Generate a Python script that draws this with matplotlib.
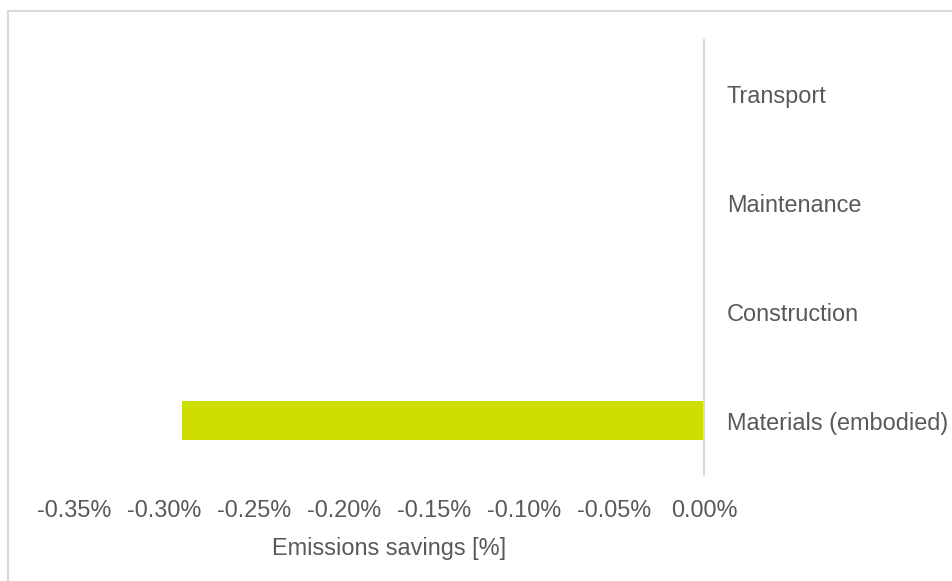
import matplotlib.pyplot as plt
from matplotlib.patches import Rectangle

# Emissions savings by category (fraction, negative = saving)
categories = ['Materials (embodied)', 'Construction', 'Maintenance', 'Transport']
savings = [-0.0029, 0.0, 0.0, 0.0]
x_ticks = [-0.0035, -0.0030, -0.0025, -0.0020, -0.0015, -0.0010, -0.0005, 0.0]

text_color = '#595959'
bar_color = '#CEDD00'
line_color = '#D9D9D9'

plt.rcParams['font.family'] = ['Liberation Sans', 'DejaVu Sans']

W, H = 953, 581
fig = plt.figure(figsize=(W / 100, H / 100), dpi=100)

# outer chart frame (cut off at the right and bottom)
fig.add_artist(Rectangle((8 / W, -0.1), 1.2, 1 - 11 / H + 0.1, transform=fig.transFigure,
                         fill=False, edgecolor=line_color, linewidth=1.5))

ax = fig.add_axes([74 / W, 1 - 475 / H, (704 - 74) / W, (475 - 40) / H])
ax.barh(range(len(categories)), savings, height=0.36, color=bar_color, zorder=2)

ax.set_xlim(-0.0035, 0.0)
ax.set_ylim(-0.5, len(categories) - 0.5)

for s in ['top', 'bottom', 'left']:
    ax.spines[s].set_visible(False)
ax.spines['right'].set_color(line_color)
ax.spines['right'].set_linewidth(1.5)

ax.set_xticks(x_ticks)
ax.set_xticklabels([f'{v * 100:.2f}%' for v in x_ticks])
ax.set_yticks(range(len(categories)))
ax.set_yticklabels(categories)
ax.yaxis.tick_right()
ax.tick_params(axis='x', length=0, pad=17, labelsize=16.9, labelcolor=text_color)
ax.tick_params(axis='y', length=0, pad=16.5, labelsize=16.9, labelcolor=text_color)
for lbl in ax.get_yticklabels():
    lbl.set_horizontalalignment('left')
    lbl.set_y(lbl.get_position()[1])

fig.text(389 / W, 1 - 548 / H, 'Emissions savings [%]', ha='center', va='center',
         fontsize=16.9, color=text_color)

fig.savefig('out.png', dpi=100)
